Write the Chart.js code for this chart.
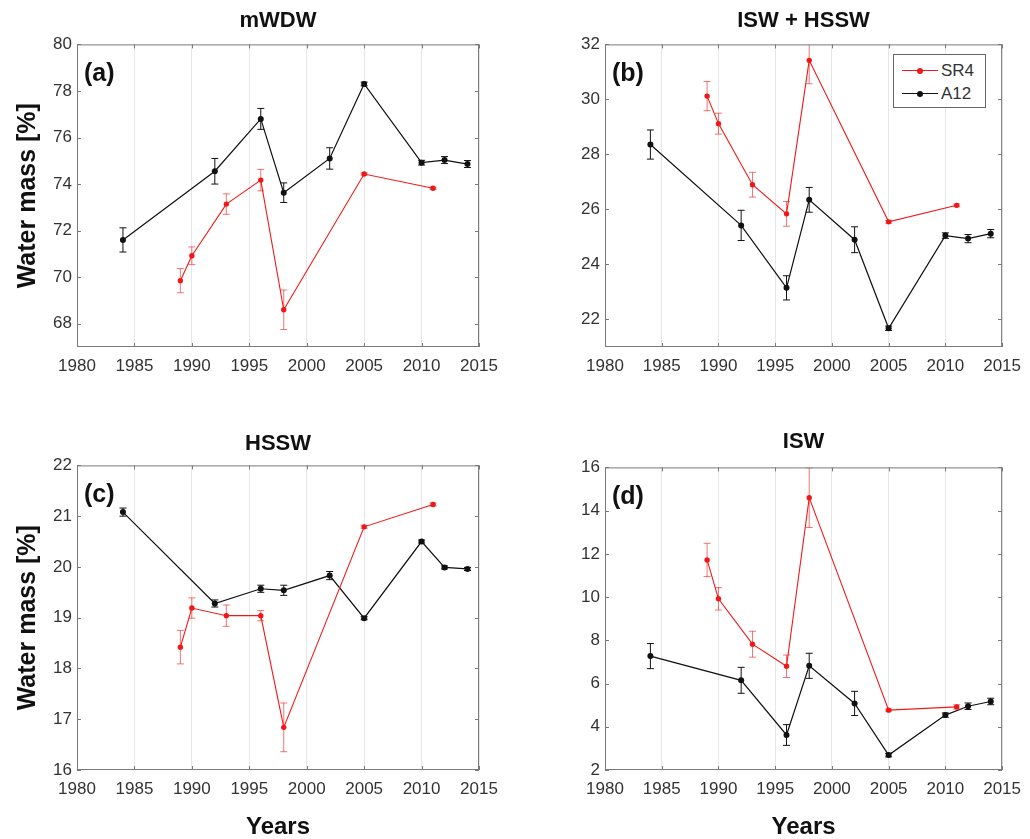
<!DOCTYPE html>
<html>
<head>
<meta charset="utf-8">
<title>Water mass fractions, SR4 vs A12</title>
<script src="https://cdn.jsdelivr.net/npm/chart.js@4.4.1/dist/chart.umd.min.js"></script>
<style>
  body { margin: 0; background: #fff; }
  #wrap { position: relative; width: 1030px; height: 839px; overflow: hidden; }
  #wrap canvas { position: absolute; }
  #legend {
    position: absolute; left: 893px; top: 54px; width: 93px; height: 54px;
    border: 1px solid #666; background: #fff; padding-top: 4px; box-sizing: border-box;
    font: 17px 'Liberation Sans', Arial, sans-serif; color: #333;
  }
  #legend .item { height: 23px; line-height: 23px; white-space: nowrap; }
  #legend .swatch { position: relative; display: inline-block; width: 36px; height: 10px; margin: 0 3px 0 8px; }
  #legend .swatch::before { content: ''; position: absolute; left: 0; right: 0; top: 4px; height: 1px; background: var(--c); }
  #legend .swatch::after { content: ''; position: absolute; left: 15px; top: 2px; width: 6px; height: 6px; border-radius: 50%; background: var(--c); }
</style>
</head>
<body>
<div id="wrap">
  <canvas id="panelA" width="515" height="420" style="left:0;top:0"></canvas>
  <canvas id="panelB" width="515" height="420" style="left:515px;top:0"></canvas>
  <canvas id="panelC" width="515" height="419" style="left:0;top:420px"></canvas>
  <canvas id="panelD" width="515" height="419" style="left:515px;top:420px"></canvas>
  <div id="legend"></div>
</div>
<script>
// survey years
const yearsA12 = [1984, 1992, 1996, 1998, 2002, 2005, 2010, 2012, 2014];
const yearsSR4 = [1989, 1990, 1993, 1996, 1998, 2005, 2011];

// (a) mWDW
const a12Mwdw = [71.6, 74.55, 76.8, 73.63, 75.1, 78.3, 74.92, 75.03, 74.86];
const a12MwdwErr = [0.52, 0.55, 0.45, 0.42, 0.46, 0.08, 0.1, 0.15, 0.15];
const sr4Mwdw = [69.85, 70.92, 73.14, 74.17, 68.6, 74.43, 73.82];
const sr4MwdwErr = [0.52, 0.38, 0.44, 0.46, 0.85, 0.05, 0.05];

// (b) ISW + HSSW
const a12IswHssw = [28.36, 25.42, 23.15, 26.35, 24.9, 21.68, 25.05, 24.94, 25.12];
const a12IswHsswErr = [0.53, 0.55, 0.44, 0.45, 0.47, 0.08, 0.1, 0.15, 0.15];
const sr4IswHssw = [30.12, 29.12, 26.9, 25.84, 31.42, 25.55, 26.15];
const sr4IswHsswErr = [0.53, 0.38, 0.45, 0.45, 0.85, 0.05, 0.05];

// (c) HSSW
const a12Hssw = [21.08, 19.28, 19.57, 19.54, 19.83, 18.99, 20.5, 19.99, 19.96];
const a12HsswErr = [0.08, 0.07, 0.07, 0.1, 0.08, 0.03, 0.03, 0.03, 0.03];
const sr4Hssw = [18.42, 19.19, 19.04, 19.04, 16.84, 20.79, 21.23];
const sr4HsswErr = [0.33, 0.2, 0.21, 0.1, 0.48, 0.03, 0.03];

// (d) ISW
const a12Isw = [7.27, 6.15, 3.62, 6.82, 5.08, 2.69, 4.54, 4.95, 5.17];
const a12IswErr = [0.58, 0.6, 0.48, 0.58, 0.56, 0.08, 0.1, 0.15, 0.15];
const sr4Isw = [11.72, 9.92, 7.82, 6.8, 14.6, 4.77, 4.92];
const sr4IswErr = [0.77, 0.52, 0.6, 0.52, 1.38, 0.05, 0.1];

// tick labels
const xTicks = [1980, 1985, 1990, 1995, 2000, 2005, 2010, 2015];
const yTicksA = [68, 70, 72, 74, 76, 78, 80];
const yTicksB = [22, 24, 26, 28, 30, 32];
const yTicksC = [16, 17, 18, 19, 20, 21, 22];
const yTicksD = [2, 4, 6, 8, 10, 12, 14, 16];

const RED = '#f01818';
const BLACK = '#111';
const FONT = "'Liberation Sans', Arial, sans-serif";

function points(xs, ys) {
    return xs.map((x, i) => ({ x: x, y: ys[i] }));
}

// vertical error bars, drawn through the chart's own scales
const errorBars = {
    id: 'errorBars',
    afterDatasetsDraw(chart) {
        const { ctx, chartArea: a, scales: { x, y } } = chart;
        ctx.save();
        ctx.beginPath();
        ctx.rect(a.left, a.top, a.width, a.height);
        ctx.clip();
        chart.data.datasets.forEach(ds => {
            if (!ds.errors) return;
            ctx.strokeStyle = ds.errorColor;
            ctx.lineWidth = 1;
            ds.data.forEach((p, j) => {
                const px = x.getPixelForValue(p.x);
                const top = y.getPixelForValue(p.y + ds.errors[j]);
                const bot = y.getPixelForValue(p.y - ds.errors[j]);
                ctx.beginPath();
                ctx.moveTo(px, top); ctx.lineTo(px, bot);
                ctx.moveTo(px - 3.5, top); ctx.lineTo(px + 3.5, top);
                ctx.moveTo(px - 3.5, bot); ctx.lineTo(px + 3.5, bot);
                ctx.stroke();
            });
        });
        ctx.restore();
    }
};

// matlab style box with inward ticks and the panel letter
const frame = {
    id: 'frame',
    afterDraw(chart, args, opts) {
        const { ctx, chartArea: a, scales: { x, y } } = chart;
        ctx.save();
        ctx.strokeStyle = '#7a7a7a';
        ctx.lineWidth = 1;
        ctx.strokeRect(a.left + 0.5, a.top + 0.5, a.width - 1, a.height - 1);
        ctx.beginPath();
        y.ticks.forEach(t => {
            const py = Math.round(y.getPixelForValue(t.value)) + 0.5;
            ctx.moveTo(a.left, py); ctx.lineTo(a.left + 4, py);
            ctx.moveTo(a.right, py); ctx.lineTo(a.right - 4, py);
        });
        x.ticks.forEach(t => {
            const px = Math.round(x.getPixelForValue(t.value)) + 0.5;
            ctx.moveTo(px, a.bottom); ctx.lineTo(px, a.bottom - 4);
            ctx.moveTo(px, a.top); ctx.lineTo(px, a.top + 4);
        });
        ctx.stroke();
        ctx.fillStyle = '#111';
        ctx.font = 'bold 25px ' + FONT;
        ctx.textBaseline = 'alphabetic';
        ctx.fillText(opts.label, a.left + 7, a.top + 37);
        ctx.restore();
    }
};

// html legend built from the datasets
const htmlLegend = {
    id: 'htmlLegend',
    afterUpdate(chart, args, opts) {
        const box = document.getElementById(opts.containerID);
        if (!box) return;
        box.innerHTML = '';
        chart.data.datasets.forEach(ds => {
            const row = document.createElement('div');
            row.className = 'item';
            const sw = document.createElement('span');
            sw.className = 'swatch';
            sw.style.setProperty('--c', ds.borderColor);
            const txt = document.createElement('span');
            txt.textContent = ds.label;
            row.appendChild(sw);
            row.appendChild(txt);
            box.appendChild(row);
        });
    }
};

function makePanel(id, p) {
    const datasets = [
        {
            label: 'SR4',
            data: points(yearsSR4, p.sr4),
            errors: p.sr4Err,
            errorColor: 'rgba(240,24,24,0.6)',
            borderColor: RED,
            backgroundColor: RED,
            borderWidth: 1.1,
            pointRadius: 2.7,
            pointBorderWidth: 0,
            pointHoverRadius: 2.7,
            tension: 0
        },
        {
            label: 'A12',
            data: points(yearsA12, p.a12),
            errors: p.a12Err,
            errorColor: BLACK,
            borderColor: BLACK,
            backgroundColor: BLACK,
            borderWidth: 1.2,
            pointRadius: 3,
            pointBorderWidth: 0,
            pointHoverRadius: 3,
            tension: 0
        }
    ];
    return new Chart(document.getElementById(id), {
        type: 'line',
        data: { datasets: datasets },
        plugins: p.legend ? [errorBars, frame, htmlLegend] : [errorBars, frame],
        options: {
            responsive: false,
            animation: false,
            events: [],
            layout: { padding: { left: 0, right: p.padRight, top: 0, bottom: 0 } },
            plugins: {
                legend: { display: false },
                tooltip: { enabled: false },
                title: {
                    display: true,
                    text: p.title,
                    fullSize: false,
                    color: '#111',
                    font: { family: FONT, size: 22, weight: 'bold', lineHeight: 1.2 },
                    padding: p.titlePad
                },
                frame: { label: p.letter },
                htmlLegend: { containerID: 'legend' }
            },
            scales: {
                x: {
                    type: 'linear',
                    min: 1980,
                    max: 2015,
                    afterBuildTicks: s => { s.ticks = xTicks.map(v => ({ value: v })); },
                    afterFit: s => { s.height = p.xHeight; },
                    grid: { color: '#e6e6e6', drawTicks: false },
                    border: { display: false },
                    ticks: {
                        color: '#333',
                        padding: 9,
                        maxRotation: 0,
                        font: { family: FONT, size: 17 },
                        callback: v => String(v)
                    },
                    title: {
                        display: !!p.xTitle,
                        text: p.xTitle || '',
                        color: '#111',
                        font: { family: FONT, size: 24, weight: 'bold', lineHeight: 1 },
                        padding: { top: 0, bottom: 0 }
                    }
                },
                y: {
                    type: 'linear',
                    min: p.yMin,
                    max: p.yMax,
                    afterBuildTicks: s => { s.ticks = p.yTicks.map(v => ({ value: v })); },
                    afterFit: s => { s.width = p.yWidth; },
                    grid: { display: false, drawTicks: false },
                    border: { display: false },
                    ticks: {
                        color: '#333',
                        padding: 5,
                        font: { family: FONT, size: 17 },
                        callback: v => String(v)
                    },
                    title: {
                        display: !!p.yTitle,
                        text: p.yTitle || '',
                        color: '#111',
                        font: { family: FONT, size: 25, weight: 'bold', lineHeight: 1.2 },
                        padding: { top: 13, bottom: 0 }
                    }
                }
            }
        }
    });
}

makePanel('panelA', {
    title: 'mWDW', letter: '(a)', yTitle: 'Water mass [%]',
    a12: a12Mwdw, a12Err: a12MwdwErr, sr4: sr4Mwdw, sr4Err: sr4MwdwErr,
    yMin: 67, yMax: 80, yTicks: yTicksA,
    yWidth: 77, xHeight: 73, padRight: 36, titlePad: { top: 8, bottom: 10 }
});
makePanel('panelB', {
    title: 'ISW + HSSW', letter: '(b)', legend: true,
    a12: a12IswHssw, a12Err: a12IswHsswErr, sr4: sr4IswHssw, sr4Err: sr4IswHsswErr,
    yMin: 21, yMax: 32, yTicks: yTicksB,
    yWidth: 90, xHeight: 73, padRight: 22, titlePad: { top: 8, bottom: 10 }
});
makePanel('panelC', {
    title: 'HSSW', letter: '(c)', yTitle: 'Water mass [%]', xTitle: 'Years',
    a12: a12Hssw, a12Err: a12HsswErr, sr4: sr4Hssw, sr4Err: sr4HsswErr,
    yMin: 16, yMax: 22, yTicks: yTicksC,
    yWidth: 77, xHeight: 69, padRight: 36, titlePad: { top: 11, bottom: 8 }
});
makePanel('panelD', {
    title: 'ISW', letter: '(d)', xTitle: 'Years',
    a12: a12Isw, a12Err: a12IswErr, sr4: sr4Isw, sr4Err: sr4IswErr,
    yMin: 2, yMax: 16, yTicks: yTicksD,
    yWidth: 90, xHeight: 69, padRight: 22, titlePad: { top: 9, bottom: 12 }
});
</script>
</body>
</html>
